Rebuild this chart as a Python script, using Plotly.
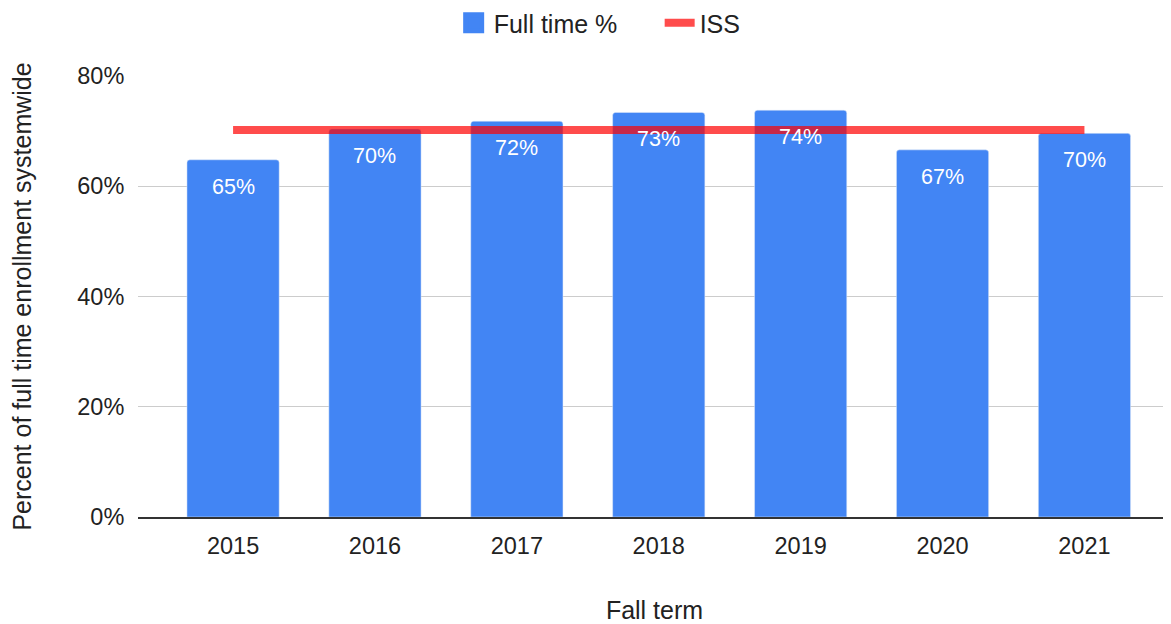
import plotly.graph_objects as go

years = ["2015", "2016", "2017", "2018", "2019", "2020", "2021"]
full_time = [0.648, 0.704, 0.718, 0.734, 0.738, 0.666, 0.696]
iss = [0.702, 0.702, 0.702, 0.702, 0.702, 0.702, 0.702]

FONT = "Liberation Sans, Arial, sans-serif"
BLUE = "#4285f4"

fig = go.Figure()
fig.add_trace(go.Bar(
    x=years, y=full_time, name="Full time %", showlegend=False,
    marker=dict(color=BLUE, cornerradius=3),
))
# legend-only entry so the swatch can be bigger than the default bar swatch
fig.add_trace(go.Scatter(
    x=[None], y=[None], name="Full time %", mode="markers",
    marker=dict(symbol="square", size=16, color=BLUE, line=dict(color=BLUE, width=5)),
))
fig.add_trace(go.Scatter(
    x=years, y=iss, name="ISS", mode="lines",
    line=dict(color="rgba(255,0,0,0.7)", width=8),
))

# data labels on top of everything (category index as x)
for i, v in enumerate(full_time):
    fig.add_annotation(
        x=i, y=v, text=f"{round(v * 100)}%", showarrow=False,
        yanchor="middle", yshift=-27,
        font=dict(family=FONT, size=21.5, color="white"),
    )

# page has an 8px body margin, so the figure is 8px smaller than the window
fig.update_layout(
    width=1163, height=616,
    paper_bgcolor="white", plot_bgcolor="white",
    margin=dict(l=130, r=0, t=68, b=107, autoexpand=False),
    font=dict(family=FONT, size=23.5, color="#222"),
    bargap=0.35,
    legend=dict(orientation="h", x=0.505, xanchor="center", y=1.12, yanchor="middle",
                entrywidth=161, font=dict(size=25, color="#222")),
)
fig.update_xaxes(
    type="category", range=[-0.67, 6.61], showgrid=False, automargin=False,
    showline=True, linecolor="#333", linewidth=1.5,
    tickfont=dict(size=23.5, color="#222"), ticks="outside", ticklen=7, tickcolor="white",
    title=dict(text="Fall term", font=dict(size=25, color="#222"), standoff=48),
)
fig.update_yaxes(
    range=[0, 0.8], dtick=0.2, tickformat=".0%", automargin=False,
    gridcolor="#cccccc", gridwidth=1, zeroline=False,
    tickfont=dict(size=23.5, color="#222"), ticks="outside", ticklen=8, tickcolor="white",
    title=dict(text="Percent of full time enrollment systemwide",
               font=dict(size=25, color="#222"), standoff=42),
)

fig.write_html("out.html")
